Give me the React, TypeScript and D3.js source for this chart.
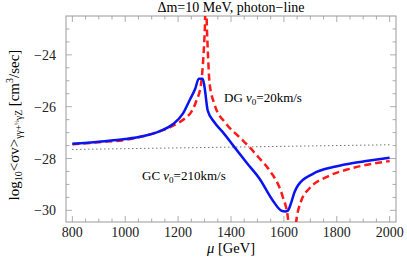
import * as d3 from 'd3';

// blue solid curve: DG, v0 = 20 km/s
const blueMu = [800, 900, 1000, 1066, 1129, 1180, 1218, 1243, 1265, 1278, 1293, 1300, 1312, 1337, 1369, 1413, 1460, 1508, 1558, 1590, 1605, 1615, 1628, 1640, 1653, 1710, 1786, 1848, 1911, 2000];
const blueVal = [-27.43, -27.35, -27.25, -27.14, -26.95, -26.68, -26.27, -25.76, -25.3, -24.92, -24.92, -25.25, -26.15, -26.6, -26.98, -27.56, -28.17, -28.78, -29.62, -30.01, -30.04, -30.01, -29.69, -29.3, -29.04, -28.59, -28.33, -28.2, -28.1, -27.97];

// red dashed curve: GC, v0 = 210 km/s
const redMu = [800, 900, 1000, 1100, 1167, 1205, 1230, 1250, 1268, 1287, 1296, 1301, 1304, 1306, 1309, 1313, 1319, 1337, 1382, 1432, 1470, 1508, 1546, 1596, 1615, 1622, 1630, 1640, 1647, 1666, 1697, 1760, 1848, 1937, 2000];
const redVal = [-27.45, -27.37, -27.28, -27.05, -26.8, -26.6, -26.42, -26.2, -25.8, -25.1, -24.0, -23.0, -22.0, -22.0, -23.0, -24.0, -25.1, -25.89, -26.66, -27.18, -27.56, -28.0, -28.46, -29.49, -30.27, -31.0, -32.0, -31.0, -30.39, -29.62, -29.15, -28.72, -28.4, -28.2, -28.1];

// black dotted reference line
const refMu = [800, 2000];
const refVal = [-27.65, -27.47];

const xMajor = [800, 1000, 1200, 1400, 1600, 1800, 2000];
const yMajor = [-30, -28, -26, -24];

const W = 407;
const H = 266;
const left = 66;
const right = 396;
const top = 16;
const bottom = 222;

const font = "'Liberation Serif', 'DejaVu Serif', serif";
const frameColor = '#999';

export default function App() {
  const x = d3.scaleLinear([776, 2024], [left, right]);
  const y = d3.scaleLinear([-30.45, -22.5], [bottom, top]);

  const toPts = (mu: number[], v: number[]) => mu.map((m, i) => [m, v[i]] as [number, number]);
  const line = d3
    .line<[number, number]>()
    .x((d) => x(d[0]))
    .y((d) => y(d[1]))
    .curve(d3.curveMonotoneX);

  const xMinor = d3.range(800, 2001, 50).filter((v) => !xMajor.includes(v));
  const yMinor = d3.range(-30, -22.5, 0.5).filter((v) => !yMajor.includes(v));

  return (
    <svg width={W} height={H} style={{ position: 'absolute', left: 0, top: 0, background: '#fff' }} fontFamily={font}>
      <defs>
        <clipPath id="plot">
          <rect x={left} y={top} width={right - left} height={bottom - top} />
        </clipPath>
      </defs>

      {/* title */}
      <text x={(left + right) / 2} y={12} fontSize={14} textAnchor="middle">
        Δm=10 MeV, photon−line
      </text>

      {/* frame */}
      <rect x={left} y={top} width={right - left} height={bottom - top} fill="none" stroke={frameColor} strokeWidth={1} />

      {/* ticks, mirrored on top and right */}
      <g stroke={frameColor} strokeWidth={0.8}>
        {xMajor.map((t) => (
          <g key={'xm' + t}>
            <line x1={x(t)} x2={x(t)} y1={bottom} y2={bottom - 6} />
            <line x1={x(t)} x2={x(t)} y1={top} y2={top + 6} />
          </g>
        ))}
        {xMinor.map((t) => (
          <g key={'xn' + t}>
            <line x1={x(t)} x2={x(t)} y1={bottom} y2={bottom - 3.5} />
            <line x1={x(t)} x2={x(t)} y1={top} y2={top + 3.5} />
          </g>
        ))}
        {yMajor.map((t) => (
          <g key={'ym' + t}>
            <line x1={left} x2={left + 6} y1={y(t)} y2={y(t)} />
            <line x1={right} x2={right - 6} y1={y(t)} y2={y(t)} />
          </g>
        ))}
        {yMinor.map((t) => (
          <g key={'yn' + t}>
            <line x1={left} x2={left + 3.5} y1={y(t)} y2={y(t)} />
            <line x1={right} x2={right - 3.5} y1={y(t)} y2={y(t)} />
          </g>
        ))}
      </g>

      {/* tick labels */}
      <g fontSize={14} fill="#222">
        {xMajor.map((t) => (
          <text key={'xl' + t} x={x(t)} y={bottom + 14.5} textAnchor="middle">
            {t}
          </text>
        ))}
        {yMajor.map((t) => (
          <text key={'yl' + t} x={left - 10} y={y(t) + 5} textAnchor="end">
            {'−' + Math.abs(t)}
          </text>
        ))}
      </g>

      {/* axis labels */}
      <text x={(left + right) / 2} y={253} fontSize={14.5} textAnchor="middle">
        <tspan fontStyle="italic">μ</tspan> [GeV]
      </text>
      <text transform={`translate(19,${125}) rotate(-90)`} fontSize={15} textAnchor="middle">
        log<tspan fontSize={10} dy={3}>10</tspan>
        <tspan dy={-3}>&lt;σv&gt;</tspan>
        <tspan fontSize={9.5} dy={3}>γγ+</tspan>
        <tspan fontSize={6.5} dy={-3}>½</tspan>
        <tspan fontSize={9.5} dy={3}>γZ</tspan>
        <tspan dy={-3}> [cm</tspan>
        <tspan fontSize={10} dy={-6}>3</tspan>
        <tspan dy={6}>/sec]</tspan>
      </text>

      {/* curves */}
      <g clipPath="url(#plot)">
        <path d={line(toPts(refMu, refVal)) ?? ''} fill="none" stroke="#333" strokeWidth={1} strokeDasharray="1,3" />
        <path d={line(toPts(redMu, redVal)) ?? ''} fill="none" stroke="#ff1a1a" strokeWidth={2.5} strokeDasharray="7,4" />
        <path d={line(toPts(blueMu, blueVal)) ?? ''} fill="none" stroke="#0a14f0" strokeWidth={2.5} />
      </g>

      {/* annotations */}
      <text x={224} y={102} fontSize={13}>
        DG <tspan fontStyle="italic">v</tspan>
        <tspan fontSize={9} dy={3}>0</tspan>
        <tspan dy={-3}>=20km/s</tspan>
      </text>
      <text x={142} y={180} fontSize={13}>
        GC <tspan fontStyle="italic">v</tspan>
        <tspan fontSize={9} dy={3}>0</tspan>
        <tspan dy={-3}>=210km/s</tspan>
      </text>
    </svg>
  );
}
